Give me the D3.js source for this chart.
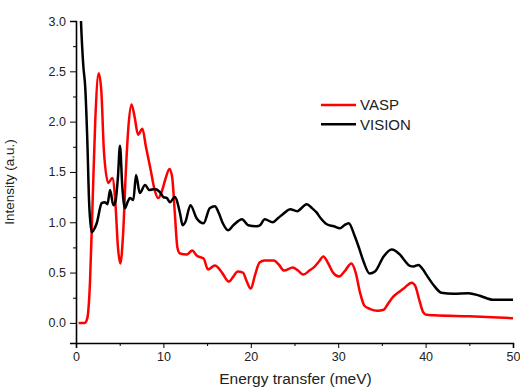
<!DOCTYPE html>
<html>
<head>
<meta charset="utf-8">
<script src="https://cdn.jsdelivr.net/npm/d3@7"></script>
<style>
  body { margin: 0; background: #fff; }
  svg { display: block; font-family: "Liberation Sans", Arial, sans-serif; }
</style>
</head>
<body>
<div id="chart"></div>
<script>
const width = 520;
const height = 391;
const margin = { top: 21, right: 7, bottom: 48, left: 76 };

// VASP (calculated) spectrum: energy (meV) / intensity
const vaspE = [0.3, 1.0, 1.3, 1.6, 1.9, 2.2, 2.6, 2.9, 3.2, 3.7, 4.15, 4.5, 4.8, 5.07, 5.4, 5.7, 6.0, 6.35, 6.7, 7.1,
  7.6, 8.0, 8.5, 9.0, 9.4, 9.8, 10.2, 10.7, 11.0, 11.3, 11.6, 11.9, 12.7, 13.3, 13.8, 14.3, 14.6, 15.1, 15.9, 16.7,
  17.5, 18.0, 18.5, 19.1, 19.5, 20.0, 20.5, 21.0, 21.6, 22.6, 23.2, 23.8, 24.8, 25.4, 26.0, 26.7, 27.3, 27.8, 28.3, 28.8,
  29.4, 30.1, 30.8, 31.5, 32.0, 32.5, 33.0, 33.6, 34.5, 35.2, 35.7, 36.3, 37.0, 37.6, 38.4, 38.8, 39.3, 39.7, 40.1, 41,
  45, 50];
const vaspI = [0, 0, 0.05, 0.4, 1.2, 2.0, 2.48, 2.3, 1.7, 1.39, 1.44, 1.2, 0.75, 0.59, 0.9, 1.5, 1.95, 2.17, 2.05, 1.87,
  1.93, 1.75, 1.54, 1.32, 1.24, 1.3, 1.42, 1.53, 1.45, 1.1, 0.75, 0.69, 0.68, 0.72, 0.67, 0.65, 0.64, 0.53, 0.57, 0.5,
  0.41, 0.46, 0.51, 0.5, 0.42, 0.34, 0.48, 0.6, 0.62, 0.62, 0.58, 0.52, 0.55, 0.52, 0.48, 0.52, 0.56, 0.61, 0.66, 0.6,
  0.5, 0.46, 0.52, 0.59, 0.5, 0.3, 0.17, 0.14, 0.12, 0.13, 0.19, 0.26, 0.31, 0.35, 0.4, 0.37, 0.22, 0.11, 0.08, 0.075,
  0.065, 0.047];

// VISION (measured) spectrum
const visionE = [0.45, 0.57, 0.84, 1.05, 1.3, 1.5, 1.8, 2.0, 2.37, 2.94, 3.3, 3.6, 3.9, 4.27, 4.5, 4.8, 5.03, 5.3, 5.6, 5.9,
  6.18, 6.56, 6.87, 7.3, 7.9, 8.4, 9.0, 9.6, 10.0, 10.4, 10.75, 11.3, 11.9, 12.2, 12.5, 13.1, 13.8, 14.6, 15.3, 15.9,
  16.3, 16.8, 17.4, 18.0, 19.0, 19.7, 20.7, 21.05, 21.6, 22.5, 23.1, 23.8, 24.5, 25.3, 26.4, 27.0, 27.5, 28.0, 28.7, 29.5,
  30.2, 30.7, 31.2, 31.9, 32.4, 32.9, 33.6, 34.2, 35.2, 36.1, 37.1, 37.6, 38.2, 38.6, 39.2, 39.7, 40.1, 40.9, 41.8, 43.2,
  44.9, 46.2, 47.7, 50];
const visionI = [3.3, 3.0, 2.55, 2.35, 1.8, 1.2, 0.9, 0.92, 0.99, 1.19, 1.2, 1.18, 1.32, 1.17, 1.2, 1.45, 1.76, 1.35, 1.14, 1.2,
  1.24, 1.22, 1.47, 1.29, 1.37, 1.32, 1.33, 1.3, 1.25, 1.24, 1.2, 1.25, 1.09, 0.97, 1.0, 1.17, 1.04, 0.99, 1.14, 1.16,
  1.1, 0.99, 0.92, 0.97, 1.03, 0.97, 0.96, 0.97, 1.03, 1.0, 1.04, 1.09, 1.13, 1.11, 1.18, 1.14, 1.1, 1.04, 0.98, 0.96,
  0.94, 0.97, 0.99, 0.86, 0.74, 0.61, 0.49, 0.51, 0.66, 0.73, 0.675, 0.62, 0.566, 0.56, 0.576, 0.53, 0.477, 0.377, 0.3, 0.29,
  0.295, 0.27, 0.23, 0.23];

const seriesNames = ["VASP", "VISION"];
const seriesColors = ["#ff0000", "#000000"];

const xTicks = [0, 10, 20, 30, 40, 50];
const xMinor = [5, 15, 25, 35, 45];
const yTicks = [0, 0.5, 1.0, 1.5, 2.0, 2.5, 3.0];
const yMinor = [-0.25, 0.25, 0.75, 1.25, 1.75, 2.25, 2.75].filter(v => v >= -0.2);

const x = d3.scaleLinear().domain([0, 50]).range([margin.left, width - margin.right]);
const y = d3.scaleLinear().domain([-0.2, 3.0]).range([height - margin.bottom, margin.top]);

const svg = d3.select("#chart")
  .append("svg")
  .attr("width", width)
  .attr("height", height);

svg.append("clipPath")
  .attr("id", "plot-clip")
  .append("rect")
  .attr("x", margin.left)
  .attr("y", margin.top)
  .attr("width", width - margin.left - margin.right)
  .attr("height", height - margin.top - margin.bottom);

const series = [
  { name: seriesNames[0], color: seriesColors[0], points: vaspE.map((e, i) => [e, vaspI[i]]) },
  { name: seriesNames[1], color: seriesColors[1], points: visionE.map((e, i) => [e, visionI[i]]) }
];

const line = d3.line()
  .x(d => x(d[0]))
  .y(d => y(d[1]))
  .curve(d3.curveMonotoneX);

svg.append("g")
  .attr("clip-path", "url(#plot-clip)")
  .selectAll(".series")
  .data(series)
  .enter()
  .append("path")
  .classed("series", true)
  .attr("fill", "none")
  .attr("stroke", d => d.color)
  .attr("stroke-width", 2.5)
  .attr("stroke-linejoin", "round")
  .attr("d", d => line(d.points));

// axes
const xAxis = svg.append("g")
  .attr("transform", `translate(0,${height - margin.bottom})`)
  .call(d3.axisBottom(x).tickValues(xTicks).tickSize(5).tickPadding(4).tickFormat(d3.format("d")));
svg.append("g")
  .attr("transform", `translate(0,${height - margin.bottom})`)
  .call(d3.axisBottom(x).tickValues(xMinor).tickSize(3).tickFormat(""))
  .select(".domain").remove();

const yAxis = svg.append("g")
  .attr("transform", `translate(${margin.left},0)`)
  .call(d3.axisLeft(y).tickValues(yTicks).tickSize(6).tickPadding(4).tickFormat(d3.format(".1f")));
svg.append("g")
  .attr("transform", `translate(${margin.left},0)`)
  .call(d3.axisLeft(y).tickValues(yMinor).tickSize(3).tickFormat(""))
  .select(".domain").remove();

svg.selectAll(".domain").attr("stroke-width", 1.6);
svg.selectAll(".tick line").attr("stroke-width", 1);
svg.selectAll(".tick text")
  .style("font-family", "'Liberation Sans', Arial, sans-serif")
  .style("font-size", "12.5px")
  .attr("fill", "#222");

// axis titles
svg.append("text")
  .attr("x", (margin.left + width - margin.right) / 2 + 1)
  .attr("y", 384)
  .attr("text-anchor", "middle")
  .style("font-size", "15.5px")
  .attr("fill", "#222")
  .text("Energy transfer (meV)");

svg.append("text")
  .attr("transform", `translate(14,${(margin.top + height - margin.bottom) / 2}) rotate(-90)`)
  .attr("text-anchor", "middle")
  .style("font-size", "13.5px")
  .attr("fill", "#222")
  .text("Intensity (a.u.)");

// legend
const legend = svg.append("g")
  .attr("transform", "translate(321,105)");
const item = legend.selectAll(".item")
  .data(series)
  .enter()
  .append("g")
  .classed("item", true)
  .attr("transform", (d, i) => `translate(0,${i * 19.3})`);
item.append("line")
  .attr("x1", 0)
  .attr("x2", 35)
  .attr("stroke", d => d.color)
  .attr("stroke-width", 2.5);
item.append("text")
  .attr("x", 39)
  .attr("y", 5.3)
  .style("font-size", "15px")
  .attr("fill", "#222")
  .text(d => d.name);
</script>
</body>
</html>
